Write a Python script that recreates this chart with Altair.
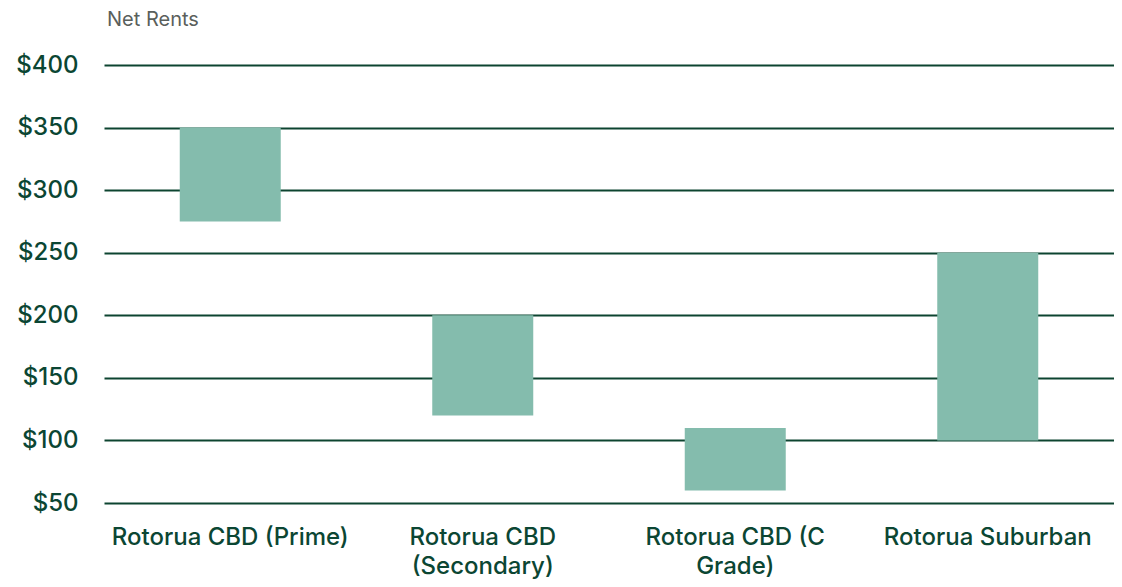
import altair as alt
import pandas as pd

categories = ["Rotorua CBD (Prime)", "Rotorua CBD (Secondary)", "Rotorua CBD (C Grade)", "Rotorua Suburban"]
label_lines = ["Rotorua CBD (Prime)", "Rotorua CBD|(Secondary)", "Rotorua CBD (C|Grade)", "Rotorua Suburban"]
low_values = [275, 120, 60, 100]
high_values = [350, 200, 110, 250]
y_ticks = [50, 100, 150, 200, 250, 300, 350, 400]

df = pd.DataFrame({"cat": categories, "low": low_values, "high": high_values})

label_map = "{" + ",".join(f"'{c}':'{l}'" for c, l in zip(categories, label_lines)) + "}"

FONT = "Inter"
DARK = "#0b4633"

chart = alt.Chart(df).mark_bar(color="#84bcad").encode(
    x=alt.X("cat:N", sort=categories, title=None,
            scale=alt.Scale(paddingInner=0.6, paddingOuter=0.3),
            axis=alt.Axis(labelAngle=0, domain=False, ticks=False, grid=False,
                          labelFont=FONT, labelFontSize=24, labelFontWeight=500,
                          labelColor=DARK,
                          labelPadding=22, labelLineHeight=29, labelLimit=400,
                          labelExpr=f"split({label_map}[datum.value], '|')")),
    y=alt.Y("low:Q", title=None,
            scale=alt.Scale(domain=[50, 400], nice=False, zero=False),
            axis=alt.Axis(values=y_ticks, domain=False, ticks=False, grid=True,
                          gridColor="#0d4430", gridWidth=2, gridOpacity=1,
                          labelFont=FONT, labelFontSize=24, labelFontWeight=500,
                          labelColor=DARK,
                          labelPadding=26, labelExpr="'$' + datum.value")),
    y2="high:Q",
).properties(
    width=1010, height=438,
    autosize=alt.AutoSizeParams(type="none"),
    padding={"left": 96, "top": 57, "right": 0, "bottom": 76},
    title=alt.TitleParams("Net Rents", anchor="start", frame="group", font=FONT,
                          fontSize=20, fontWeight="normal", color="#5a5f5c",
                          offset=23, dx=3),
).configure_view(stroke=None)

chart.save("out.html", embed_options={"renderer": "svg", "actions": False})
